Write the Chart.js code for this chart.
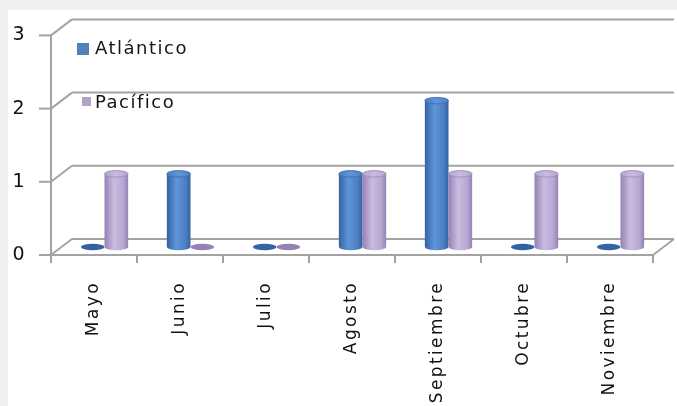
<!DOCTYPE html>
<html lang="es">
<head>
<meta charset="utf-8">
<title>Atlántico / Pacífico</title>
<script src="https://cdn.jsdelivr.net/npm/chart.js@4/dist/chart.umd.min.js"></script>
<style>
    html, body { margin: 0; padding: 0; background: #efefef; }
    #wrap { position: relative; width: 677px; height: 406px; overflow: hidden; }
    #wrap canvas { position: absolute; left: 0; top: 0; }
    .key { position: absolute; left: 95px; font: 18px "DejaVu Sans", sans-serif; letter-spacing: 1.5px; color: #151515; line-height: 20px; }
    .swatch { position: absolute; }
</style>
</head>
<body>
<div id="wrap">
    <canvas id="chart" width="677" height="406"></canvas>
    <div class="swatch" style="left:77px;top:43px;width:12px;height:12px;background:#4f81bd"></div>
    <div class="key" style="top:38px">Atlántico</div>
    <div class="swatch" style="left:82px;top:97px;width:9px;height:9px;background:#b3a2c7"></div>
    <div class="key" style="top:92px">Pacífico</div>
</div>
<script>
(() => {
    const categories = ["Mayo", "Junio", "Julio", "Agosto", "Septiembre", "Octubre", "Noviembre"];
    const atlantico = [0, 1, 0, 1, 2, 0, 0];
    const pacifico = [1, 0, 0, 1, 1, 1, 1];
    const yTicks = [0, 1, 2, 3];

    const FONT = '"DejaVu Sans", sans-serif';
    const DX = 21, DY = 16;   // depth of the 3d box (back wall offset)
    const shades = [
        { dark: "#3363a3", light: "#5f95d8", top: "#4c7fc1" },   // Atlántico
        { dark: "#9382b3", light: "#cbbbe0", top: "#b7a6d1" }    // Pacífico
    ];

    const line = (ctx, x1, y1, x2, y2) => {
        ctx.beginPath();
        ctx.moveTo(x1, y1);
        ctx.lineTo(x2, y2);
        ctx.stroke();
    };

    const cylinder = (ctx, cx, top, bottom, rx, ry, c) => {
        if (bottom - top < 0.5) {
            // zero value: only a flat disc on the floor
            ctx.fillStyle = c.dark;
            ctx.beginPath();
            ctx.ellipse(cx, bottom, rx, ry, 0, 0, Math.PI * 2);
            ctx.fill();
            return;
        }
        const g = ctx.createLinearGradient(cx - rx, 0, cx + rx, 0);
        g.addColorStop(0, c.dark);
        g.addColorStop(0.4, c.light);
        g.addColorStop(0.8, c.top);
        g.addColorStop(1, c.dark);
        ctx.fillStyle = g;
        ctx.beginPath();
        ctx.moveTo(cx - rx, top);
        ctx.lineTo(cx - rx, bottom);
        ctx.ellipse(cx, bottom, rx, ry, 0, Math.PI, 0, true);
        ctx.lineTo(cx + rx, top);
        ctx.ellipse(cx, top, rx, ry, 0, 0, Math.PI, false);
        ctx.closePath();
        ctx.fill();

        const t = ctx.createLinearGradient(cx - rx, 0, cx + rx, 0);
        t.addColorStop(0, c.top);
        t.addColorStop(0.5, c.light);
        t.addColorStop(1, c.top);
        ctx.fillStyle = t;
        ctx.strokeStyle = c.dark;
        ctx.lineWidth = 0.8;
        ctx.beginPath();
        ctx.ellipse(cx, top, rx, ry, 0, 0, Math.PI * 2);
        ctx.fill();
        ctx.stroke();
    };

    const backdrop = {
        id: "backdrop",
        beforeDraw(chart) {
            const ctx = chart.ctx;
            ctx.save();
            ctx.fillStyle = "#efefef";
            ctx.fillRect(0, 0, chart.width, chart.height);
            ctx.fillStyle = "#ffffff";
            ctx.fillRect(8, 10, chart.width - 8, chart.height - 10);
            ctx.restore();
            ctx.letterSpacing = "2.4px";
        }
    };

    const walls = {
        id: "walls",
        beforeDatasetsDraw(chart) {
            const ctx = chart.ctx;
            const { left, right } = chart.chartArea;
            const y = chart.scales.y;
            const y0 = y.getPixelForValue(0);
            ctx.save();
            ctx.strokeStyle = "#a3a3a3";
            ctx.lineWidth = 2;
            yTicks.forEach((v) => {
                const py = y.getPixelForValue(v);
                line(ctx, left + DX, py - DY, right + DX, py - DY);
                line(ctx, left, py, left + DX, py - DY);
                line(ctx, left - 12, py, left, py);
            });
            line(ctx, left, y.getPixelForValue(yTicks[yTicks.length - 1]), left, y0);
            line(ctx, left, y0, right, y0);
            line(ctx, right, y0, right + DX, y0 - DY);
            const step = (right - left) / categories.length;
            for (let i = 0; i <= categories.length; i++) {
                line(ctx, left + i * step, y0, left + i * step, y0 + 8);
            }
            ctx.restore();
        }
    };

    const cylinders = {
        id: "cylinders",
        afterDatasetsDraw(chart) {
            const ctx = chart.ctx;
            ctx.save();
            chart.data.datasets.forEach((ds, i) => {
                chart.getDatasetMeta(i).data.forEach((bar) => {
                    const p = bar.getProps(["x", "y", "base", "width"], true);
                    cylinder(ctx, p.x + DX / 2, p.y - DY / 2, p.base - DY / 2, p.width / 2, 3.2, shades[i]);
                });
            });
            ctx.restore();
        }
    };

    new Chart(document.getElementById("chart"), {
        type: "bar",
        data: {
            labels: categories,
            datasets: [
                { label: "Atlántico", data: atlantico, backgroundColor: "rgba(0,0,0,0)", borderWidth: 0 },
                { label: "Pacífico", data: pacifico, backgroundColor: "rgba(0,0,0,0)", borderWidth: 0 }
            ]
        },
        options: {
            responsive: false,
            animation: false,
            events: [],
            categoryPercentage: 0.55,
            barPercentage: 1,
            layout: { padding: { top: 30, right: 24, left: 0, bottom: 0 } },
            plugins: {
                legend: { display: false },
                tooltip: { enabled: false }
            },
            scales: {
                x: {
                    grid: { display: false, drawTicks: false },
                    border: { display: false },
                    ticks: {
                        minRotation: 90,
                        maxRotation: 90,
                        autoSkip: false,
                        padding: 26,
                        color: "#111111",
                        font: { family: FONT, size: 17 }
                    },
                    afterFit: (scale) => { scale.height = 151; }
                },
                y: {
                    min: 0,
                    max: 3,
                    grid: { display: false, drawTicks: false },
                    border: { display: false },
                    ticks: {
                        stepSize: 1,
                        padding: 24,
                        color: "#111111",
                        font: { family: FONT, size: 19 }
                    },
                    afterFit: (scale) => { scale.width = 51; }
                }
            }
        },
        plugins: [backdrop, walls, cylinders]
    });
})();
</script>
</body>
</html>
